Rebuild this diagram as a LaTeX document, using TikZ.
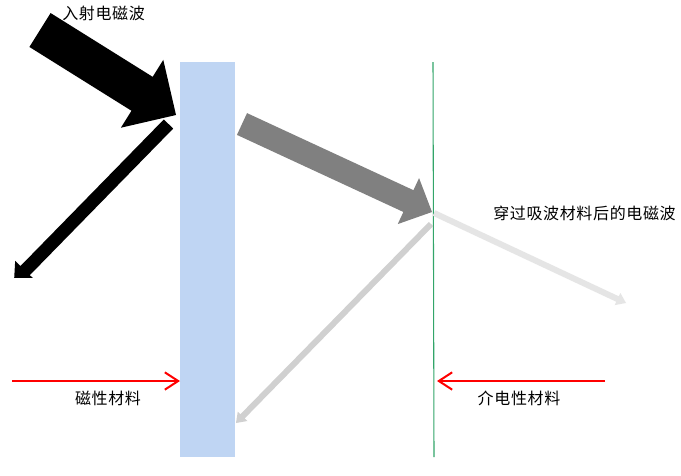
\documentclass[tikz,border=0pt]{standalone}
\usepackage{fontspec}
\newfontfamily\cjk[LetterSpace=4]{Noto Sans CJK SC}
\usetikzlibrary{calc,arrows.meta}
\definecolor{slabblue}{RGB}{191,213,243}
\definecolor{linegreen}{RGB}{50,165,105}
\definecolor{refgray}{RGB}{208,208,208}
\definecolor{transgray}{RGB}{229,229,229}
\definecolor{midgray}{RGB}{128,128,128}
% #1 colour, #2 tail, #3 tip, #4 half shaft, #5 half head, #6 head length
\newcommand\blockarrow[6]{%
  \coordinate (#2-#3-b) at ($(#3)!#6!(#2)$);
  \fill[#1] ($(#2)!#4!90:(#3)$) -- ($(#2-#3-b)!#4!90:(#3)$) -- ($(#2-#3-b)!#5!90:(#3)$)
    -- (#3) -- ($(#2-#3-b)!#5!-90:(#3)$) -- ($(#2-#3-b)!#4!-90:(#3)$)
    -- ($(#2)!#4!-90:(#3)$) -- cycle;
}
\begin{document}
\begin{tikzpicture}[x=0.75pt,y=-0.75pt,
  lbl/.style={font=\cjk\fontsize{12pt}{14pt}\selectfont, inner sep=0pt},
  redarrow/.style={red, line width=1.5pt, -{Straight Barb[length=10pt,width=13pt,line width=1.5pt]}}]
\useasboundingbox (0,0) rectangle (681,475);
\fill[white] (0,0) rectangle (681,475);
% slab of magnetic material
\node[fill=slabblue, inner sep=0pt, minimum width=41.25pt, minimum height=296.25pt] (slab) at (207.5,259.5) {};
% dielectric line
\coordinate (gTop) at (433,62);
\coordinate (gBot) at (434,457);
\draw[linegreen, line width=0.8pt] (gTop) -- (gBot);
% incident wave
\coordinate (inT) at (40,30);
\coordinate (inP) at (176,115);
\blockarrow{black}{inT}{inP}{15pt}{30pt}{30pt}
% reflected wave (clipped)
\begin{scope}
\clip (0,0) rectangle (681,277);
\coordinate (rfT) at (168.5,124);
\coordinate (rfP) at (14,282);
\blockarrow{black}{rfT}{rfP}{4.9pt}{10.5pt}{12pt}
\end{scope}
% wave inside
\coordinate (grT) at (242,124);
\coordinate (grP) at (432,212);
\blockarrow{midgray}{grT}{grP}{9pt}{19pt}{19.5pt}
% second reflection
\coordinate (lrT) at (431,224);
\coordinate (lrP) at (236,423);
\blockarrow{refgray}{lrT}{lrP}{2.25pt}{5pt}{7pt}
% transmitted
\coordinate (trT) at (434,213);
\coordinate (trP) at (626,303);
\blockarrow{transgray}{trT}{trP}{2.25pt}{5pt}{7pt}
% red pointers
\coordinate (rl0) at (12,381);
\coordinate (rl1) at (180,381);
\draw[redarrow] (rl0) -- (rl1);
\coordinate (rr0) at (605,381);
\coordinate (rr1) at (437,381);
\draw[redarrow] (rr0) -- (rr1);
% labels
\node[lbl, anchor=west] (tIn) at (62,13) {入射电磁波};
\node[lbl, anchor=west] (tTr) at (493,213) {穿过吸波材料后的电磁波};
\node[lbl] (tMag) at (108,398) {磁性材料};
\node[lbl] (tDiel) at (519,398) {介电性材料};
\end{tikzpicture}
\end{document}
